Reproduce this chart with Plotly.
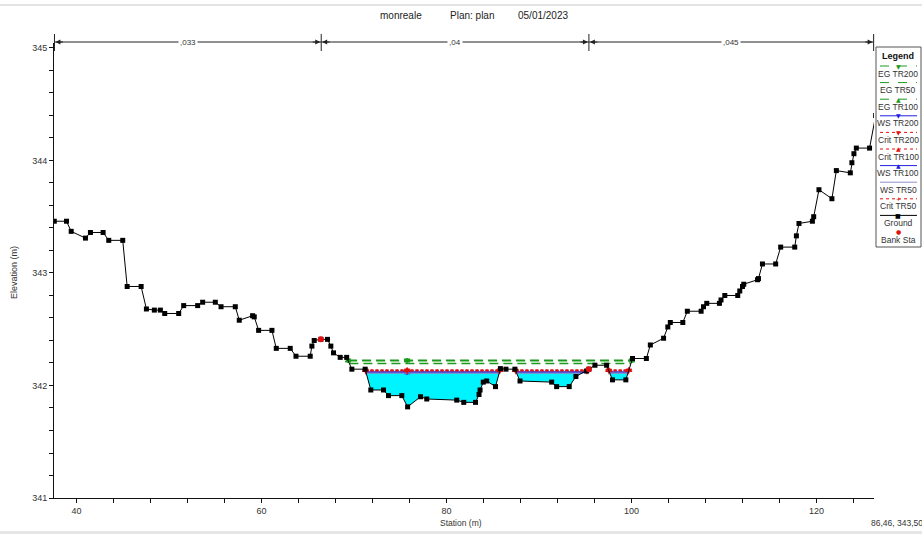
import numpy as np
import plotly.graph_objects as go

# ---------------- data ----------------
station = [37.60, 38.92, 39.43, 40.97, 41.51, 42.88, 43.49, 45.00, 45.48, 46.99,
           47.56, 48.42, 49.07, 49.54, 51.05, 51.59, 53.10, 53.64, 55.01, 55.63,
           57.17, 57.60, 59.04, 59.22, 59.69, 61.13, 61.60, 63.11, 63.73, 65.27,
           65.45, 65.70, 66.42, 67.14, 67.50, 67.79, 68.51, 69.21, 69.77, 71.21,
           71.82, 73.19, 73.73, 75.17, 75.80, 77.20, 77.87, 81.11, 81.87, 83.14,
           83.52, 83.63, 83.98, 84.35, 85.30, 85.83, 86.43, 87.40, 87.95, 91.37,
           91.91, 93.27, 93.99, 95.15, 95.40, 96.05, 97.31, 97.95, 99.39, 100.11,
           101.61, 102.04, 103.47, 103.93, 104.20, 105.55, 106.04, 107.53, 107.79, 108.14,
           109.51, 109.68, 110.09, 111.49, 111.71, 112.00, 112.14, 113.63, 113.73, 114.16,
           115.59, 116.13, 117.65, 117.83, 118.11, 119.56, 119.70, 120.27, 121.67, 122.15,
           123.66, 123.83, 124.05, 124.31, 125.74, 126.40]
elevation = [343.46, 343.46, 343.37, 343.31, 343.36, 343.36, 343.29, 343.29, 342.88, 342.88,
             342.68, 342.67, 342.67, 342.64, 342.64, 342.71, 342.71, 342.74, 342.74, 342.70,
             342.70, 342.58, 342.62, 342.61, 342.49, 342.49, 342.33, 342.33, 342.26, 342.26,
             342.35, 342.40, 342.41, 342.41, 342.35, 342.29, 342.25, 342.25, 342.145, 342.145,
             341.96, 341.96, 341.91, 341.91, 341.81, 341.90, 341.88, 341.87, 341.85, 341.85,
             341.92, 341.96, 342.03, 342.04, 341.99, 342.15, 342.145, 342.145, 342.04, 342.03,
             341.99, 341.99, 342.08, 342.128, 342.145, 342.18, 342.18, 342.05, 342.05, 342.24,
             342.24, 342.36, 342.42, 342.52, 342.56, 342.56, 342.66, 342.66, 342.70, 342.73,
             342.73, 342.76, 342.80, 342.80, 342.84, 342.88, 342.90, 342.94, 342.95, 343.08,
             343.08, 343.23, 343.23, 343.33, 343.44, 343.46, 343.50, 343.74, 343.66, 343.91,
             343.89, 343.98, 344.06, 344.11, 344.11, 344.40]

bank_sta = [66.42, 95.40]
n_breaks = [37.62, 66.46, 95.40, 126.18]
n_values = [",033", ",04", ",045"]

eg_names = ["EG TR200", "EG TR50", "EG TR100"]
eg_wsel = [342.225, 342.195, 342.22]
ws_names = ["WS TR200", "WS TR100", "WS TR50"]
ws_wsel = [342.12, 342.115, 342.11]
crit_names = ["Crit TR200", "Crit TR100", "Crit TR50"]
crit_wsel = [342.135, 342.135, 342.13]

legend_order = ["EG TR200", "EG TR50", "EG TR100", "WS TR200", "Crit TR200",
                "Crit TR100", "WS TR100", "WS TR50", "Crit TR50", "Ground", "Bank Sta"]

title_parts = ["monreale", "Plan: plan", "05/01/2023"]
cursor_text = "86,46, 343,50"
mark_sta = 75.75

# ---------------- styles ----------------
GREEN = "#1a9a1a"
BLUE = "#2020e0"
LAV = "#9090c8"
RED = "#e01010"
FONT = "Liberation Sans, Arial, sans-serif"
XR = [37.57, 126.22]
YR = [341.0, 345.044]
W, H = 922, 534
ML, MR, MT, MB = 54, 48, 43, 36
PW, PH = W - ML - MR, H - MT - MB

style = {
    "EG TR200": dict(color=GREEN, dash="9px,5px", sym="triangle-down", glyph="\u25BC"),
    "EG TR50": dict(color=GREEN, dash="9px,5px", sym=None, glyph=None),
    "EG TR100": dict(color=GREEN, dash="9px,5px", sym="triangle-up", glyph="\u25B2"),
    "WS TR200": dict(color=BLUE, dash="solid", sym="triangle-down", glyph="\u25BC"),
    "WS TR100": dict(color=BLUE, dash="solid", sym="triangle-up", glyph="\u25B2"),
    "WS TR50": dict(color=LAV, dash="solid", sym=None, glyph=None),
    "Crit TR200": dict(color=RED, dash="3px,2px", sym="triangle-down", glyph="\u25BC"),
    "Crit TR100": dict(color=RED, dash="3px,2px", sym="triangle-up", glyph="\u25B2"),
    "Crit TR50": dict(color=RED, dash="3px,2px", sym="cross-thin", glyph="+"),
    "Ground": dict(color="black", dash="solid", sym="square", glyph="\u25A0"),
    "Bank Sta": dict(color=RED, dash=None, sym="circle", glyph="\u25CF"),
}

sta = np.array(station, dtype=float)
elv = np.array(elevation, dtype=float)


def wet_segments(x, z, w):
    segs = []
    below = z < w
    n = len(x)
    i = 0
    while i < n:
        if below[i]:
            j = i
            while j + 1 < n and below[j + 1]:
                j += 1
            xl = x[0] if i == 0 else x[i - 1] + (w - z[i - 1]) * (x[i] - x[i - 1]) / (z[i] - z[i - 1])
            xr = x[-1] if j == n - 1 else x[j] + (w - z[j]) * (x[j + 1] - x[j]) / (z[j + 1] - z[j])
            segs.append((xl, xr, x[i:j + 1], z[i:j + 1]))
            i = j + 1
        else:
            i += 1
    return segs


def px_x(px):
    return (px - ML) / PW


def px_y(py):
    return (H - MB - py) / PH


def sta_paper(s):
    return (s - XR[0]) / (XR[1] - XR[0])


def note(px, py, text, size=9, color="#333", family=FONT, **kw):
    d = dict(xref="paper", yref="paper", x=px_x(px), y=px_y(py), text=text, showarrow=False,
             xanchor="center", yanchor="middle", font=dict(size=size, color=color, family=family))
    d.update(kw)
    return d


fig = go.Figure()

# water fill (highest water surface)
wfill = max(ws_wsel)
fx, fy = [], []
for xl, xr, xs, zs in wet_segments(sta, elv, wfill):
    fx += [xl] + list(xs) + [xr, xl, None]
    fy += [wfill] + list(zs) + [wfill, wfill, None]
fig.add_trace(go.Scatter(x=fx, y=fy, mode="lines", fill="toself", fillcolor="#00f4ff",
                         line=dict(width=0, color="#00f4ff"), hoverinfo="skip", showlegend=False))


def add_profile(name, w, ends=False, mid=True, span=False):
    st = style[name]
    segs = wet_segments(sta, elv, w)
    if span:
        segs = [(min(s[0] for s in segs), max(s[1] for s in segs), None, None)]
    lx, ly, mx, my = [], [], [], []
    for xl, xr, _, _ in segs:
        lx += [xl, xr, None]
        ly += [w, w, None]
        if ends:
            mx += [xl, xr]
            my += [w, w]
        if mid and xl < mark_sta < xr:
            mx.append(mark_sta)
            my.append(w)
    fig.add_trace(go.Scatter(x=lx, y=ly, mode="lines", name=name, showlegend=False,
                             line=dict(color=st["color"], width=1.4, dash=st["dash"])))
    if st["sym"] and mx:
        fig.add_trace(go.Scatter(x=mx, y=my, mode="markers", showlegend=False,
                                 marker=dict(symbol=st["sym"], size=5, color=st["color"],
                                             line=dict(width=1, color=st["color"]))))


for n, w in zip(eg_names, eg_wsel):
    add_profile(n, w, ends=True, span=True)
for n, w in zip(ws_names, ws_wsel):
    add_profile(n, w)
for n, w in zip(crit_names, crit_wsel):
    add_profile(n, w, ends=True)

fig.add_trace(go.Scatter(x=station, y=elevation, mode="lines+markers", name="Ground", showlegend=False,
                         line=dict(color="black", width=1),
                         marker=dict(symbol="square", size=5, color="black")))
fig.add_trace(go.Scatter(x=bank_sta, y=np.interp(bank_sta, sta, elv), mode="markers", showlegend=False,
                         marker=dict(symbol="circle", size=6, color=RED)))

shapes, ann = [], []

# Manning's n bar
ny = px_y(42)
shapes.append(dict(type="line", xref="paper", yref="paper", x0=sta_paper(n_breaks[0]), x1=sta_paper(n_breaks[-1]),
                   y0=ny, y1=ny, line=dict(color="#222", width=1)))
for b in n_breaks:
    shapes.append(dict(type="line", xref="paper", yref="paper", x0=sta_paper(b), x1=sta_paper(b),
                       y0=px_y(34), y1=px_y(51), line=dict(color="#222", width=1)))
for k, lab in enumerate(n_values):
    a, b = n_breaks[k], n_breaks[k + 1]
    ann.append(dict(xref="paper", yref="paper", x=sta_paper((a + b) / 2), y=ny, text=lab, showarrow=False,
                    xanchor="center", yanchor="middle",
                    bgcolor="white", font=dict(size=8, color="#333", family=FONT), borderpad=1))
    ann.append(dict(xref="paper", yref="paper", x=sta_paper(a) + 0.0012, y=ny, ax=9, ay=0, text="",
                    showarrow=True, arrowhead=2, arrowsize=1, arrowwidth=1, arrowcolor="#222"))
    ann.append(dict(xref="paper", yref="paper", x=sta_paper(b) - 0.0012, y=ny, ax=-9, ay=0, text="",
                    showarrow=True, arrowhead=2, arrowsize=1, arrowwidth=1, arrowcolor="#222"))

# title
for txt, px in zip(title_parts, [401, 472, 543]):
    ann.append(note(px, 15, txt, size=10, color="#222"))

# axis titles
ann.append(note(461, 523, "Station (m)", size=8.5))
ann.append(note(14, 273, "Elevation (m)", size=9, textangle=-90))
ann.append(note(869, 523, cursor_text, size=8.5, xanchor="left"))

# frame decorations
shapes.append(dict(type="line", xref="paper", yref="paper", x0=px_x(0), x1=px_x(W), y0=px_y(5), y1=px_y(5),
                   line=dict(color="#c8c8c8", width=1)))
shapes.append(dict(type="rect", xref="paper", yref="paper", x0=px_x(0), x1=px_x(W), y0=px_y(531), y1=px_y(534),
                   fillcolor="#e6e6e6", line=dict(width=0)))

# custom legend
LX0, LX1 = 876, 921
shapes.append(dict(type="rect", xref="paper", yref="paper", x0=px_x(LX0), x1=px_x(LX1), y0=px_y(47), y1=px_y(247),
                   line=dict(color="#555", width=1), fillcolor="white", layer="above"))
cx = (LX0 + LX1) / 2
ann.append(note(cx, 56, "<b>Legend</b>", size=9, color="#111"))
y0 = 66
for i, name in enumerate(legend_order):
    st = style[name]
    ly = y0 + i * 16.6
    ty = ly + 7.5
    if st["dash"]:
        d = {"9px,5px": "dash", "3px,2px": "dot", "solid": "solid"}[st["dash"]]
        shapes.append(dict(type="line", xref="paper", yref="paper", x0=px_x(LX0 + 4), x1=px_x(LX1 - 4),
                           y0=px_y(ly), y1=px_y(ly), line=dict(color=st["color"], width=1, dash=d), layer="above"))
    if st["glyph"]:
        ann.append(note(cx, ly, st["glyph"], size=6, color=st["color"], family="DejaVu Sans"))
    ann.append(note(cx, ty, name, size=8.5, color="#333"))

fig.update_layout(
    width=W, height=H, margin=dict(l=ML, r=MR, t=MT, b=MB, autoexpand=False),
    paper_bgcolor="white", plot_bgcolor="white", showlegend=False,
    shapes=shapes, annotations=ann,
    font=dict(family=FONT, size=9, color="#333"),
    xaxis=dict(range=XR, showgrid=False, zeroline=False, showline=True, linecolor="#111", linewidth=1,
               ticks="outside", ticklen=4, tickcolor="#111", tickmode="linear", tick0=0, dtick=20,
               tickfont=dict(size=9, color="#333"), automargin=False,
               minor=dict(ticks="outside", ticklen=4, tickcolor="#111", dtick=4, tick0=0, showgrid=False)),
    yaxis=dict(range=YR, showgrid=False, zeroline=False, showline=True, linecolor="#111", linewidth=1,
               ticks="outside", ticklen=4, tickcolor="#111", tickmode="linear", tick0=341, dtick=1,
               tickfont=dict(size=9, color="#333"), automargin=False,
               minor=dict(ticks="outside", ticklen=4, tickcolor="#111", dtick=0.2, tick0=341, showgrid=False)),
)

fig.write_html("out.html", config={"displayModeBar": False},
               post_script="document.body.style.margin='0';document.body.style.overflow='hidden';")
